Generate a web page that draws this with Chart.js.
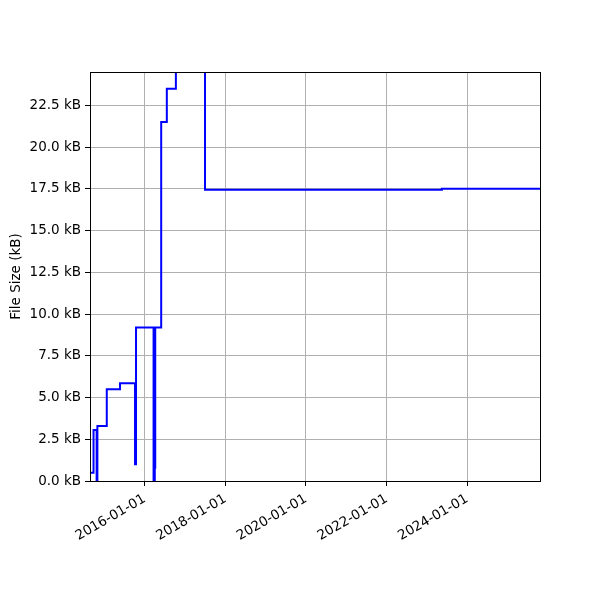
<!DOCTYPE html>
<html>
<head>
<meta charset="utf-8">
<script src="https://cdn.jsdelivr.net/npm/chart.js@4.4.0/dist/chart.umd.min.js"></script>
<style>
  body { margin: 0; background: #fff; }
</style>
</head>
<body>
<canvas id="chart-canvas" width="600" height="600"></canvas>
<script>
// commit dates and file size (kB) after each change
const dates = [
  '2014-08-24', '2014-09-25', '2014-10-23', '2014-10-30', '2015-01-23',
  '2015-05-23', '2015-10-06', '2015-10-15', '2016-03-22', '2016-04-02',
  '2016-04-06', '2016-05-30', '2016-07-20', '2016-10-10', '2017-07-01',
  '2023-05-17', '2025-10-22'
]
const sizes = [
  0.5, 3.05, 0, 3.3, 5.5,
  5.85, 1.0, 9.2, 0, 0.8,
  9.2, 21.5, 23.5, 26, 17.45,
  17.5, 17.5
]
const xTickYears = [2016, 2018, 2020, 2022, 2024]
const yTicks = [0, 2.5, 5, 7.5, 10, 12.5, 15, 17.5, 20, 22.5]

const points = dates.map((d, i) => ({ x: Date.parse(d), y: sizes[i] }))
const font = { family: 'DejaVu Sans', size: 13.5 }

// matplotlib style box around the axes
const frame = {
  id: 'frame',
  afterDatasetsDraw (chart) {
    const a = chart.chartArea
    const ctx = chart.ctx
    ctx.save()
    ctx.strokeStyle = '#000'
    ctx.lineWidth = 1
    ctx.strokeRect(Math.round(a.left) + 0.5, Math.round(a.top) + 0.5,
      Math.round(a.right - a.left), Math.round(a.bottom - a.top))
    ctx.restore()
  }
}

Chart.defaults.color = '#000'

new Chart(document.getElementById('chart-canvas'), {
  type: 'line',
  data: {
    datasets: [{
      data: points,
      borderColor: '#0000ff',
      borderWidth: 2,
      pointRadius: 0,
      stepped: 'before',
      fill: false
    }]
  },
  options: {
    responsive: false,
    animation: false,
    layout: { padding: { top: 72, right: 60, left: 0, bottom: 0 } },
    plugins: { legend: { display: false }, tooltip: { enabled: false } },
    scales: {
      x: {
        type: 'linear',
        min: Date.parse('2014-08-24'),
        max: Date.parse('2025-10-22'),
        afterBuildTicks: (scale) => {
          scale.ticks = xTickYears.map(y => ({ value: Date.UTC(y, 0, 1) }))
        },
        afterFit: (scale) => { scale.height = 119 },
        grid: { color: '#b0b0b0', tickColor: '#000', tickLength: 5 },
        border: { color: '#000' },
        ticks: {
          font,
          padding: 5,
          autoSkip: false,
          minRotation: 30,
          maxRotation: 30,
          callback: (val) => new Date(val).toISOString().slice(0, 10)
        }
      },
      y: {
        min: 0,
        max: 24.5,
        afterBuildTicks: (scale) => {
          scale.ticks = yTicks.map(v => ({ value: v }))
        },
        afterFit: (scale) => { scale.width = 90 },
        grid: { color: '#b0b0b0', tickColor: '#000', tickLength: 5 },
        border: { color: '#000' },
        title: {
          display: true,
          text: 'File Size (kB)',
          font,
          padding: { top: 8, bottom: 4 }
        },
        ticks: {
          font,
          padding: 4,
          callback: (val) => val.toFixed(1) + ' kB'
        }
      }
    }
  },
  plugins: [frame]
})
</script>
</body>
</html>
